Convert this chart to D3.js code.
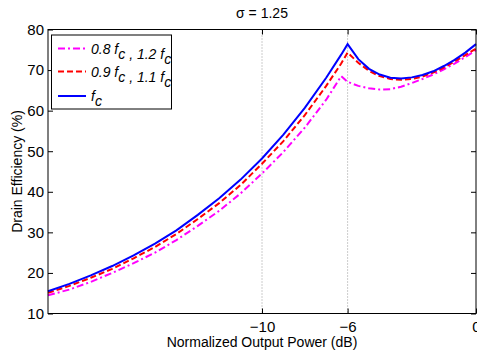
<!DOCTYPE html>
<html>
<head>
<meta charset="utf-8">
<script src="https://cdn.jsdelivr.net/npm/d3@7"></script>
<style>
  html, body { margin: 0; padding: 0; background: #fff; }
  svg { display: block; font-family: "Liberation Sans", Arial, Helvetica, sans-serif; }
</style>
</head>
<body>
<div id="chart"></div>
<script>
// ---- data ----
const powerDb = [-20,-19,-18,-17,-16,-15,-14,-13,-12,-11,-10,-9,-8,-7,-6.3,-6,
                 -5.5,-5,-4.5,-4,-3.5,-3,-2.5,-2,-1.5,-1,-0.5,0];
const effFc = [15.5,17.3,19.4,21.7,24.3,27.2,30.5,34.3,38.4,43.0,48.2,54.1,60.7,68.1,73.8,76.4,
               72.7,70.3,68.9,68.1,67.9,68.2,68.8,69.7,71.0,72.5,74.3,76.4];
const eff09 = [15.1,16.8,18.8,21.0,23.6,26.4,29.6,33.3,37.2,41.7,46.9,52.5,58.9,66.1,71.6,74.3,
               71.8,69.8,68.5,67.8,67.6,67.8,68.4,69.4,70.6,72.1,73.7,75.3];
const eff08 = [14.5,15.9,17.8,20.0,22.4,25.0,28.1,31.6,35.3,39.6,44.5,49.8,55.8,62.7,68.5,67.1,
               66.1,65.5,65.2,65.3,65.9,66.8,67.8,68.9,70.2,71.6,73.2,74.9];
const xTicks = [-10, -6, 0];
const xTickLabels = ["\u221210", "\u22126", "0"];
const yTicks = [10, 20, 30, 40, 50, 60, 70, 80];
const gridX = [-10, -6];
const titleText = "\u03c3 = 1.25";
const xLabel = "Normalized Output Power (dB)";
const yLabel = "Drain Efficiency (%)";
const seriesNames = [["0.8 ", "f", "c", " , 1.2 ", "f", "c"],
                     ["0.9 ", "f", "c", " , 1.1 ", "f", "c"],
                     ["", "f", "c"]];

// ---- layout ----
const W = 477, H = 358;
const L = 48, R = 476, T = 29.5, B = 313.5;

const svg = d3.select("#chart").append("svg").attr("width", W).attr("height", H);

const x = d3.scaleLinear().domain([-20, 0]).range([L, R]);
const y = d3.scaleLinear().domain([10, 80]).range([B, T]);

// gridlines
svg.append("g").selectAll("line").data(gridX).join("line")
  .attr("x1", d => x(d)).attr("x2", d => x(d))
  .attr("y1", T).attr("y2", B)
  .attr("stroke", "#999").attr("stroke-width", 1)
  .attr("stroke-dasharray", "1,2");

// series
const series = [
  { vals: eff08, color: "#ff00ff", dash: "7,3,2,3" },
  { vals: eff09, color: "#ff0000", dash: "6,3" },
  { vals: effFc, color: "#0000ff", dash: null }
];
const line = d3.line().x(d => x(d[0])).y(d => y(d[1]));
series.forEach(s => {
  svg.append("path")
    .datum(powerDb.map((p, i) => [p, s.vals[i]]))
    .attr("d", line)
    .attr("fill", "none")
    .attr("stroke", s.color)
    .attr("stroke-width", 2)
    .attr("stroke-dasharray", s.dash);
});

// axes
const fmt = d => xTickLabels[xTicks.indexOf(d)];
const gB = svg.append("g").attr("transform", `translate(0,${B})`)
  .call(d3.axisBottom(x).tickValues(xTicks).tickFormat(fmt).tickSizeInner(-5).tickSizeOuter(0).tickPadding(7.5));
const gT = svg.append("g").attr("transform", `translate(0,${T})`)
  .call(d3.axisTop(x).tickValues(xTicks).tickFormat("").tickSizeInner(-5).tickSizeOuter(0));
const gL = svg.append("g").attr("transform", `translate(${L},0)`)
  .call(d3.axisLeft(y).tickValues(yTicks).tickSizeInner(-5).tickSizeOuter(0).tickPadding(4));
const gR = svg.append("g").attr("transform", `translate(${R},0)`)
  .call(d3.axisRight(y).tickValues(yTicks).tickFormat("").tickSizeInner(-5).tickSizeOuter(0));
[gB, gT, gL, gR].forEach(g => {
  g.select(".domain").remove();
  g.selectAll("line").attr("stroke", "#000");
  g.selectAll("text").attr("font-size", 15).attr("fill", "#000")
    .attr("font-family", "'Liberation Sans', Arial, sans-serif");
});

// box
svg.append("rect").attr("x", L).attr("y", T).attr("width", R - L).attr("height", B - T)
  .attr("fill", "none").attr("stroke", "#000").attr("stroke-width", 1);

// title & labels
svg.append("text").attr("x", (L + R) / 2).attr("y", 18).attr("text-anchor", "middle")
  .attr("font-size", 14).text(titleText);
svg.append("text").attr("x", (L + R) / 2).attr("y", 347).attr("text-anchor", "middle")
  .attr("font-size", 14).text(xLabel);
svg.append("text").attr("transform", `translate(22,${(T + B) / 2}) rotate(-90)`)
  .attr("text-anchor", "middle").attr("font-size", 14).text(yLabel);

// legend
const lg = svg.append("g");
lg.append("rect").attr("x", 51.5).attr("y", 35).attr("width", 120).attr("height", 74)
  .attr("fill", "#fff").attr("stroke", "#000").attr("stroke-width", 1);
const rowsY = [48.5, 71.5, 96];
series.forEach((s, i) => {
  lg.append("line").attr("x1", 58).attr("x2", 86).attr("y1", rowsY[i]).attr("y2", rowsY[i])
    .attr("stroke", s.color).attr("stroke-width", 2).attr("stroke-dasharray", s.dash);
  const parts = seriesNames[i];
  const t = lg.append("text").attr("x", 91).attr("y", rowsY[i] + 5)
    .attr("font-size", 14).attr("font-style", "italic");
  for (let k = 0; k < parts.length; k += 3) {
    if (parts[k]) t.append("tspan").text(parts[k]);
    t.append("tspan").text(parts[k + 1]);
    t.append("tspan").attr("dy", 5).text(parts[k + 2]);
    if (k + 3 < parts.length) t.append("tspan").attr("dy", -5).text("");
  }
});
</script>
</body>
</html>
